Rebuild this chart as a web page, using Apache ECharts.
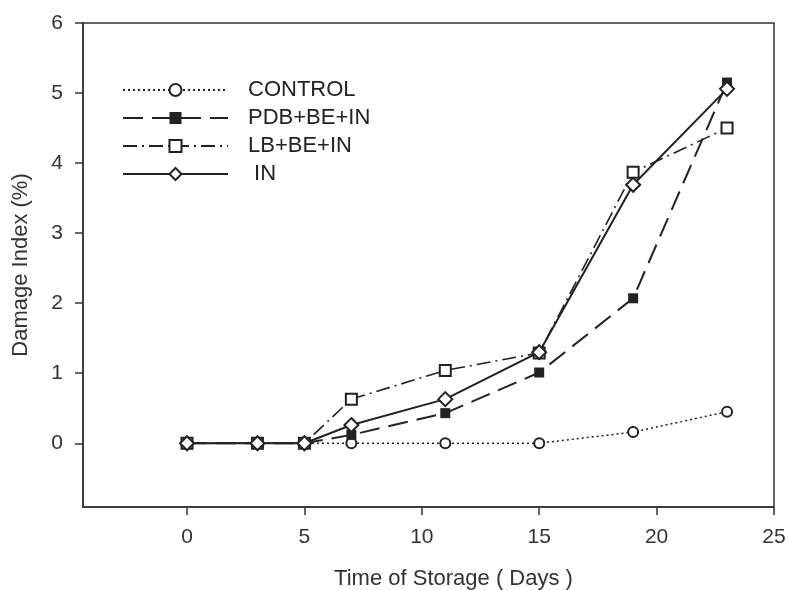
<!DOCTYPE html>
<html>
<head>
<meta charset="utf-8">
<script src="https://cdn.jsdelivr.net/npm/echarts@6/dist/echarts.min.js"></script>
<style>html,body{margin:0;padding:0;background:#fff}#c{width:789px;height:590px}</style>
</head>
<body>
<div id="c"></div>
<script>
var days = [0, 3, 5, 7, 11, 15, 19, 23];
var control = [0, 0, 0, 0, 0, 0, 0.16, 0.45];
var pdb = [0, 0, 0, 0.12, 0.43, 1.01, 2.07, 5.15];
var lb = [0, 0, 0, 0.63, 1.04, 1.29, 3.87, 4.5];
var inn = [0, 0, 0, 0.26, 0.63, 1.3, 3.69, 5.06];
var xTicks = [0, 5, 10, 15, 20, 25];
var yTicks = [0, 1, 2, 3, 4, 5, 6];
var names = ['CONTROL', 'PDB+BE+IN', 'LB+BE+IN', ' IN'];

function pairs(v) { return days.map(function (d, i) { return [d, v[i]]; }); }
var FONT = 'Liberation Sans, Arial, sans-serif';
var INK = '#222';

var chart = echarts.init(document.getElementById('c'));
chart.setOption({
  animation: false,
  grid: { left: 83, right: 15, top: 23, bottom: 83, outerBoundsMode: 'none', containLabel: false,
    show: true, borderColor: '#333', borderWidth: 1.5, backgroundColor: 'transparent' },
  legend: {
    orient: 'vertical', left: 117, top: 74,
    itemWidth: 105, itemHeight: 15, itemGap: 6,
    textStyle: { fontFamily: FONT, fontSize: 22, color: INK, padding: [0, 0, 0, 15], lineHeight: 22 },
    data: names
  },
  xAxis: {
    type: 'value', min: -4.43, max: 25,
    name: 'Time of Storage ( Days )', nameLocation: 'middle', nameGap: 61,
    nameTextStyle: { fontFamily: FONT, fontSize: 22, color: '#333', padding: [0, 0, 0, 50] },
    axisLine: { show: true, onZero: false, lineStyle: { color: '#333', width: 1.5 } },
    axisTick: { show: true, length: 8, customValues: xTicks, lineStyle: { color: '#333', width: 1.5 } },
    axisLabel: { customValues: xTicks, margin: 20, fontFamily: FONT, fontSize: 21, color: '#333' },
    splitLine: { show: false }
  },
  yAxis: {
    type: 'value', min: -0.91, max: 6,
    name: 'Damage Index (%)', nameLocation: 'middle', nameGap: 51, nameRotate: 90,
    nameTextStyle: { fontFamily: FONT, fontSize: 22, color: '#333' },
    axisLine: { show: true, onZero: false, lineStyle: { color: '#333', width: 1.5 } },
    axisTick: { show: true, length: 8, customValues: yTicks, lineStyle: { color: '#333', width: 1.5 } },
    axisLabel: { customValues: yTicks, margin: 20, fontFamily: FONT, fontSize: 21, color: '#333' },
    splitLine: { show: false }
  },
  series: [
    { name: names[0], type: 'line', data: pairs(control), symbol: 'emptyCircle', symbolSize: 10,
      lineStyle: { color: INK, width: 1.5, type: [2, 3] }, itemStyle: { color: INK, borderWidth: 2 }, z: 2 },
    { name: names[1], type: 'line', data: pairs(pdb), symbol: 'rect', symbolSize: 10,
      lineStyle: { color: INK, width: 2, type: [20, 9] }, itemStyle: { color: INK, borderWidth: 1 }, z: 3 },
    { name: names[2], type: 'line', data: pairs(lb), symbol: 'emptyRect', symbolSize: 11,
      lineStyle: { color: INK, width: 1.6, type: [14, 5, 2, 5] }, itemStyle: { color: INK, borderWidth: 2 }, z: 4 },
    { name: names[3], type: 'line', data: pairs(inn), symbol: 'emptyDiamond', symbolSize: 14,
      lineStyle: { color: INK, width: 2 }, itemStyle: { color: INK, borderWidth: 2 }, z: 5 }
  ]
});
</script>
</body>
</html>
